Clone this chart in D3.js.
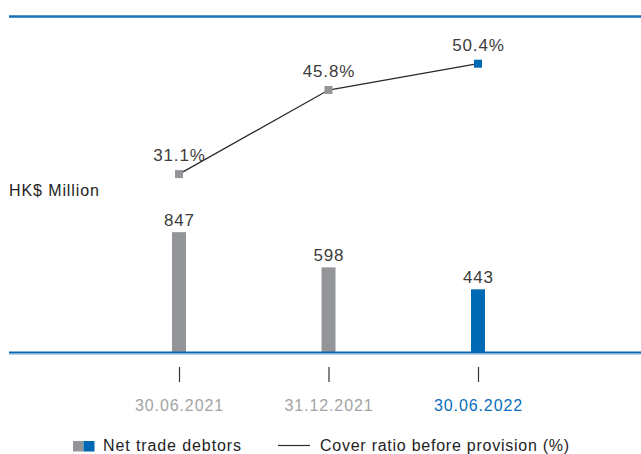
<!DOCTYPE html>
<html>
<head>
<meta charset="utf-8">
<script src="https://cdn.jsdelivr.net/npm/d3@7"></script>
<style>
  html, body { margin: 0; padding: 0; background: #ffffff; }
  svg { display: block; font-family: "Liberation Sans", Arial, sans-serif; }
</style>
</head>
<body>
<svg id="chart" width="641" height="454"></svg>
<script>
// ---- data ----
const categories = ["30.06.2021", "31.12.2021", "30.06.2022"];
const netTradeDebtors = [847, 598, 443];
const coverRatio = [31.1, 45.8, 50.4];
const unitLabel = "HK$ Million";
const legendLabels = ["Net trade debtors", "Cover ratio before provision (%)"];

// ---- styles ----
const GRAY = "#939598";
const BLUE = "#0069b4";
const TEXT = "#3c3c3c";
const colorFor = i => (i === categories.length - 1 ? BLUE : GRAY);
const labelColorFor = i => (i === categories.length - 1 ? "#0a6ebd" : "#a3a3a5");

const svg = d3.select("#chart");
const W = 641;
const baseY = 352;

const x = d3.scalePoint().domain(categories).range([179, 478]);
const yBar = d3.scaleLinear().domain([0, 1000]).range([baseY, baseY - 141.5]);
const yLine = d3.scaleLinear().domain([0, 60]).range([baseY, baseY - 343.2]);

// top rule
svg.append("line").attr("x1", 9).attr("x2", W).attr("y1", 16.5).attr("y2", 16.5)
  .attr("stroke", "#1570b8").attr("stroke-width", 2.6);

// bars
const barW = 14;
svg.selectAll("rect.bar").data(netTradeDebtors).enter().append("rect")
  .attr("class", "bar")
  .attr("x", (d, i) => x(categories[i]) - barW / 2)
  .attr("y", d => yBar(d))
  .attr("width", barW)
  .attr("height", d => baseY - yBar(d))
  .attr("fill", (d, i) => colorFor(i));

// bar value labels
svg.selectAll("text.val").data(netTradeDebtors).enter().append("text")
  .attr("class", "val")
  .attr("x", (d, i) => x(categories[i]) + 0.5)
  .attr("y", d => yBar(d) - 6)
  .attr("text-anchor", "middle")
  .attr("font-size", 17)
  .attr("letter-spacing", 0.8)
  .attr("fill", TEXT)
  .text(d => d);

// baseline
svg.append("line").attr("x1", 9).attr("x2", W).attr("y1", 352.5).attr("y2", 352.5)
  .attr("stroke", "#0a68b3").attr("stroke-width", 2);
svg.append("line").attr("x1", 9).attr("x2", W).attr("y1", 354).attr("y2", 354)
  .attr("stroke", "#6aa6d9").attr("stroke-width", 1);

// x axis (ticks + labels)
const axis = svg.append("g").attr("transform", "translate(0,367)")
  .call(d3.axisBottom(x).tickSize(15).tickPadding(17.5));
axis.select(".domain").remove();
axis.selectAll(".tick line").attr("stroke", "#333").attr("stroke-width", 1.2);
axis.selectAll(".tick text")
  .attr("font-size", 16)
  .attr("letter-spacing", 0.9)
  .attr("font-family", "Liberation Sans, Arial, sans-serif")
  .attr("fill", (d, i) => labelColorFor(i));

// line series
const line = d3.line()
  .x((d, i) => x(categories[i]))
  .y(d => yLine(d));
svg.append("path").datum(coverRatio)
  .attr("d", line)
  .attr("fill", "none")
  .attr("stroke", "#2a2a2a")
  .attr("stroke-width", 1.3);

const mk = 8;
svg.selectAll("rect.mk").data(coverRatio).enter().append("rect")
  .attr("class", "mk")
  .attr("x", (d, i) => x(categories[i]) - mk / 2)
  .attr("y", d => yLine(d) - mk / 2)
  .attr("width", mk)
  .attr("height", mk)
  .attr("fill", (d, i) => colorFor(i));

svg.selectAll("text.pct").data(coverRatio).enter().append("text")
  .attr("class", "pct")
  .attr("x", (d, i) => x(categories[i]) + 0.5)
  .attr("y", d => yLine(d) - 13)
  .attr("text-anchor", "middle")
  .attr("font-size", 17)
  .attr("letter-spacing", 0.9)
  .attr("fill", TEXT)
  .text(d => d.toFixed(1) + "%");

// unit label
svg.append("text").attr("x", 9).attr("y", 196)
  .attr("font-size", 16).attr("letter-spacing", 0.9)
  .attr("fill", "#1e1e1e")
  .text(unitLabel);

// legend
const lg = svg.append("g");
lg.append("rect").attr("x", 73).attr("y", 441).attr("width", 10.5).attr("height", 10.5).attr("fill", GRAY);
lg.append("rect").attr("x", 83.5).attr("y", 441).attr("width", 11).attr("height", 10.5).attr("fill", BLUE);
lg.append("text").attr("x", 103).attr("y", 450.5)
  .attr("font-size", 16).attr("letter-spacing", 0.9).attr("fill", "#1e1e1e")
  .text(legendLabels[0]);
lg.append("line").attr("x1", 278).attr("x2", 310).attr("y1", 445.5).attr("y2", 445.5)
  .attr("stroke", "#2a2a2a").attr("stroke-width", 1.2);
lg.append("text").attr("x", 320).attr("y", 450.5)
  .attr("font-size", 16).attr("letter-spacing", 0.75).attr("fill", "#1e1e1e")
  .text(legendLabels[1]);
</script>
</body>
</html>
